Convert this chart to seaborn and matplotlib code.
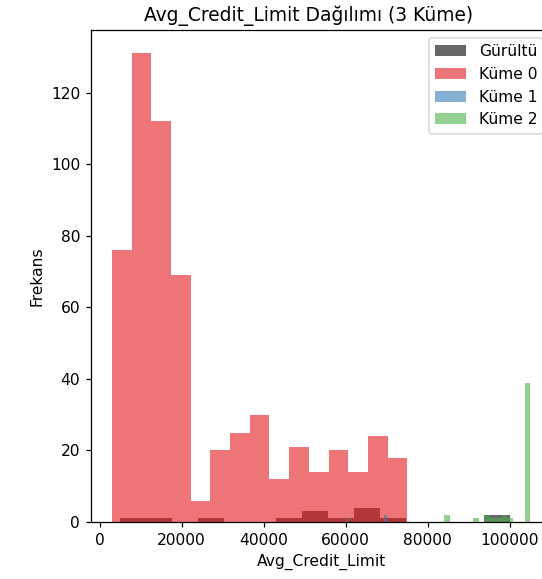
import numpy as np
import pandas as pd
import matplotlib
matplotlib.use("Agg")
import matplotlib.pyplot as plt
import seaborn as sns

# Histogram counts per cluster (15 equal-width bins between each cluster's min and max)
noise_range = (5000, 100000)
noise_counts = [1, 1, 0, 1, 0, 0, 1, 3, 1, 4, 1, 0, 0, 0, 2]

c0_range = (3000, 75000)
c0_counts = [76, 131, 112, 69, 6, 20, 25, 30, 12, 21, 14, 20, 14, 24, 18]

c1_range = (60000, 70000)
c1_counts = [1, 0, 0, 0, 0, 0, 0, 0, 0, 0, 0, 0, 0, 0, 2]

c2_range = (84000, 105000)
c2_counts = [2, 0, 0, 0, 0, 1, 0, 2, 1, 1, 2, 1, 0, 0, 39]

labels = ["Gürültü", "Küme 0", "Küme 1", "Küme 2"]
n_bins = 15

set1 = sns.color_palette("Set1")
colors = ["black", set1[0], set1[1], set1[2]]

DPI = 112
fig = plt.figure(figsize=(542 / DPI, 579 / DPI), dpi=DPI)
ax = fig.add_axes([0.168, 0.0984, 0.849, 0.8498])

groups = [
    (noise_range, noise_counts),
    (c0_range, c0_counts),
    (c1_range, c1_counts),
    (c2_range, c2_counts),
]

for (rng, counts), lab, col in zip(groups, labels, colors):
    edges = np.linspace(rng[0], rng[1], n_bins + 1)
    df = pd.DataFrame({
        "value": (edges[:-1] + edges[1:]) / 2,
        "count": np.asarray(counts, dtype=float),
    })
    sns.histplot(data=df, x="value", weights="count", bins=list(edges),
                 stat="count", color=col, alpha=0.6, linewidth=0,
                 label=lab, ax=ax)

# 5% padding around the full data span, as plain matplotlib hist would give
lo = min(r[0] for r, _ in groups)
hi = max(r[1] for r, _ in groups)
pad = 0.05 * (hi - lo)
ax.set_xlim(lo - pad, hi + pad)

ax.set_title("Avg_Credit_Limit Dağılımı (3 Küme)", x=0.473)
ax.set_xlabel("Avg_Credit_Limit")
ax.set_ylabel("Frekans")
ax.set_xticks([0, 20000, 40000, 60000, 80000, 100000])
ax.legend(loc="upper right")

fig.savefig("out.png", dpi=DPI)
